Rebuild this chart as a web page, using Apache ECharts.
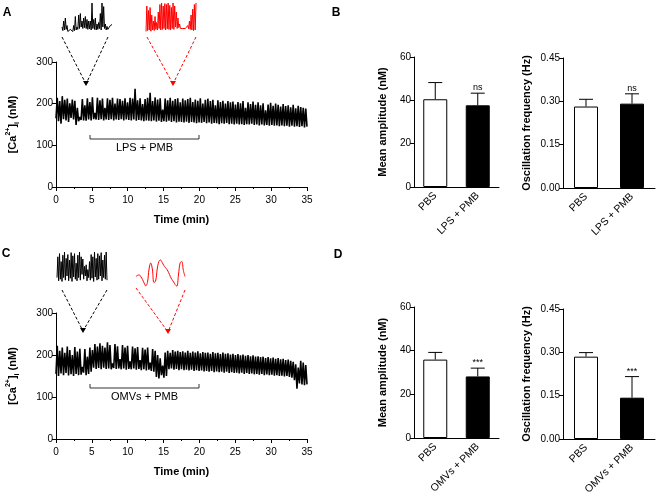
<!DOCTYPE html>
<html><head><meta charset="utf-8">
<script src="https://cdn.jsdelivr.net/npm/echarts@6/dist/echarts.min.js"></script>
<style>html,body{margin:0;padding:0;background:#fff}#c{width:660px;height:500px}</style>
</head><body><div id="c"></div>
<script>
// ---------- DATA ----------
const traceDuration = 35; // min
const traceA = [
165,214,158,206,152,218,163,209,160,212,156,201,166,210,162,207,149,190,158,168,
161,211,160,196,159,213,162,204,160,215,163,178,162,214,161,208,163,212,160,190,
162,213,161,209,163,214,160,200,162,212,161,211,163,207,160,213,162,203,161,214,
160,212,162,236,159,208,161,213,160,199,158,211,160,214,159,226,158,206,160,215,
157,210,159,213,156,186,158,212,157,208,159,214,156,207,158,211,155,213,157,203,
156,212,155,208,157,211,154,214,156,204,155,210,153,207,155,213,154,200,156,209,
153,212,155,206,152,209,154,196,153,208,151,204,153,207,152,200,154,206,151,203,
152,205,150,198,152,204,150,201,151,206,149,190,151,203,150,199,152,205,149,197,
150,203,148,196,150,201,148,184,149,198,147,202,149,195,147,200,148,197,146,193,
148,199,146,194,147,196,145,191,147,197,145,189,146,195,144,192,146,190,143,188,145];
const traceC = [
155,222,150,210,156,218,152,205,157,220,151,212,154,200,150,219,155,208,152,215,
153,172,158,214,152,196,155,218,160,212,170,226,167,220,169,228,166,222,170,218,
167,230,168,224,166,180,169,226,167,221,168,190,166,224,168,218,165,222,167,185,
166,220,168,216,165,219,167,188,164,217,166,213,163,218,165,182,162,214,160,210,
148,200,144,192,152,175,146,206,150,210,166,205,168,212,165,208,167,210,164,207,
166,209,164,206,165,210,163,205,165,208,162,206,164,209,162,204,163,207,161,205,
162,206,160,203,162,207,159,204,161,205,159,202,160,206,158,203,160,204,157,201,
159,203,157,200,158,202,156,199,158,201,155,198,157,200,155,197,156,199,154,196,
155,197,153,195,155,196,152,193,154,195,152,192,153,194,151,191,152,193,150,190,
151,191,149,188,150,189,148,186,146,184,140,178,120,170,132,186,130,182,128,176,130];
// inset snippets (relative height 0-100)
const insetA1 = [20,8,40,10,50,12,25,5,10,4,12,6,8,5,25,8,55,10,20,12,60,15,65,20,40,15,50,18,55,15,45,12,40,14,40,10,100,15,45,12,50,10,30,12,35,15,65,10,100,20,88,15,30,10,22,12,18,14,25,20,28];
const insetA2 = [5,90,8,75,10,85,6,60,10,40,8,55,12,35,10,70,15,95,10,100,12,90,15,98,10,95,14,100,12,92,10,85,15,100,12,90,20,70,15,50,18,30,15,20,12,15,14,12,15,14,12,25,14,40,12,60,10,80,8,95,10,100];
const insetC1 = [20,85,10,95,15,70,8,90,20,100,12,80,25,92,10,75,18,98,8,88,22,95,15,65,10,90,20,100,12,85,30,78,15,55,25,60,10,45,20,70,12,92,18,85,8,100,22,80,12,95,15,88,25,98,10,75,20,90,15,100,12];
const insetC2 = [35,39,40,34,25,13,4,15,60,80,60,15,20,60,85,90,82,72,65,58,48,35,25,17,8,3,40,80,85,55,35];

const catsB = ['PBS', 'LPS + PMB'];
const catsD = ['PBS', 'OMVs + PMB'];
const ampB = [40.5, 37.7],   ampBErr = [48.2, 43.3];
const freqB = [0.282, 0.292], freqBErr = [0.307, 0.326];
const ampD = [35.9, 28.2],   ampDErr = [39.2, 32.0];
const freqD = [0.285, 0.143], freqDErr = [0.299, 0.216];
const sigB = ['', 'ns'];
const sigD = ['', '***'];
const bracketA = 'LPS + PMB';
const bracketC = 'OMVs + PMB';

// ---------- CHART ----------
const FF = 'Liberation Sans, Arial, sans-serif';
const chart = echarts.init(document.getElementById('c'), null, {renderer:'canvas'});
const axLine = {show:true, lineStyle:{color:'#000', width:1}};
const axTick = {show:true, length:4, lineStyle:{color:'#000'}};
const lbl = {color:'#000', fontSize:10, fontFamily:FF};

const grids = [
  {left:56, top:62, width:251, height:125},   // 0 A trace
  {left:56, top:313, width:251, height:126},  // 1 C trace
  {left:414, top:57, width:85, height:130},   // 2 B amp
  {left:563, top:58, width:92, height:130},   // 3 B freq
  {left:414, top:307, width:85, height:131},  // 4 D amp
  {left:563, top:309, width:92, height:130},  // 5 D freq
  {left:62, top:3, width:50, height:30},      // 6 inset A black
  {left:146, top:3, width:50, height:30},     // 7 inset A red
  {left:57, top:252, width:50, height:32},    // 8 inset C black
  {left:136, top:257, width:49, height:30}    // 9 inset C red
];

const caName = {
  name:'{b|[Ca}{s|2+}{b|]}{i|i}{b| (nM)}', nameLocation:'middle', nameGap:35,
  nameTextStyle:{rich:{
    b:{fontSize:11, fontWeight:'bold', fontFamily:FF, color:'#000', lineHeight:16},
    s:{fontSize:7, fontWeight:'bold', fontFamily:FF, color:'#000', verticalAlign:'top', lineHeight:16},
    i:{fontSize:7, fontWeight:'bold', fontFamily:FF, color:'#000', verticalAlign:'bottom', lineHeight:16}
  }}
};
function traceX(gi){
  return {type:'value', gridIndex:gi, min:0, max:35, interval:5, axisLine:axLine, axisTick:axTick,
    minorTick:{show:true, splitNumber:2, length:2, lineStyle:{color:'#000'}},
    splitLine:{show:false}, axisLabel:lbl,
    name:'Time (min)', nameLocation:'middle', nameGap:27,
    nameTextStyle:{fontSize:11, fontWeight:'bold', fontFamily:FF, color:'#000'}};
}
function traceY(gi){
  return Object.assign({type:'value', gridIndex:gi, min:0, max:300, interval:100, axisLine:axLine, axisTick:axTick,
    splitLine:{show:false}, axisLabel:Object.assign({}, lbl, {margin:3})}, caName);
}
function barX(gi, cats){
  return {type:'category', gridIndex:gi, data:cats, axisLine:axLine, axisTick:{show:false},
    axisLabel:Object.assign({}, lbl, {rotate:45, margin:7, interval:0, fontSize:10.5})};
}
function barY(gi, max, interval, name, gap, dec){
  return {type:'value', gridIndex:gi, min:0, max:max, interval:interval, axisLine:axLine, axisTick:axTick,
    splitLine:{show:false}, axisLabel:Object.assign({}, lbl, {margin:3, formatter:v=>v.toFixed(dec)}),
    name:name, nameLocation:'middle', nameGap:gap,
    nameTextStyle:{fontSize:11, fontWeight:'bold', fontFamily:FF, color:'#000'}};
}
function insetAx(gi, n){
  return [{type:'value', gridIndex:gi, min:0, max:n-1, show:false},
          {type:'value', gridIndex:gi, min:0, max:100, show:false}];
}
const xAxes = [traceX(0), traceX(1), barX(2,catsB), barX(3,catsB), barX(4,catsD), barX(5,catsD)];
const yAxes = [traceY(0), traceY(1),
  barY(2, 60, 20, 'Mean amplitude (nM)', 26, 0),
  barY(3, 0.45, 0.15, 'Oscillation frequency (Hz)', 31, 2),
  barY(4, 60, 20, 'Mean amplitude (nM)', 26, 0),
  barY(5, 0.45, 0.15, 'Oscillation frequency (Hz)', 31, 2)];
[[6,insetA1],[7,insetA2],[8,insetC1],[9,insetC2]].forEach(([g,arr])=>{
  const [x,y] = insetAx(g, arr.length); xAxes.push(x); yAxes.push(y);
});

function traceSeries(idx, arr){
  const step = traceDuration/(arr.length-1);
  return {type:'line', xAxisIndex:idx, yAxisIndex:idx, showSymbol:false, sampling:null, animation:false,
    lineStyle:{color:'#000', width:1.6}, data:arr.map((v,i)=>[i*step, v])};
}
function barSeries(idx, vals){
  return {type:'bar', xAxisIndex:idx, yAxisIndex:idx, barWidth:24, animation:false,
    data:vals.map((v,i)=>({value:v, itemStyle:{color: i===0 ? '#fff' : '#000', borderColor:'#000', borderWidth:1}}))};
}
function errSeries(idx, vals, errs, sig){
  return {type:'custom', xAxisIndex:idx, yAxisIndex:idx, z:5, animation:false,
    data:vals.map((v,i)=>[i, v, errs[i]]),
    renderItem(params, api){
      const b = api.coord([api.value(0), api.value(1)]);
      const t = api.coord([api.value(0), api.value(2)]);
      const cap = 7;
      return {type:'group', children:[
        {type:'line', shape:{x1:b[0], y1:b[1], x2:t[0], y2:t[1]}, style:{stroke:'#000', lineWidth:1}},
        {type:'line', shape:{x1:t[0]-cap, y1:t[1], x2:t[0]+cap, y2:t[1]}, style:{stroke:'#000', lineWidth:1}},
        {type:'text', style:{text:sig[params.dataIndex], x:t[0], y:t[1]-1, align:'center', verticalAlign:'bottom',
          font:'9px '+FF, fill:'#000'}}
      ]};
    }};
}
function insetSeries(idx, arr, color, smooth){
  return {type:'line', xAxisIndex:idx, yAxisIndex:idx, showSymbol:false, smooth:smooth, animation:false,
    lineStyle:{color:color, width:1}, data:arr.map((v,i)=>[i,v])};
}

const series = [
  traceSeries(0, traceA), traceSeries(1, traceC),
  barSeries(2, ampB), barSeries(3, freqB), barSeries(4, ampD), barSeries(5, freqD),
  errSeries(2, ampB, ampBErr, sigB), errSeries(3, freqB, freqBErr, sigB),
  errSeries(4, ampD, ampDErr, sigD), errSeries(5, freqD, freqDErr, sigD),
  insetSeries(6, insetA1, '#000', false), insetSeries(7, insetA2, '#ff0000', false),
  insetSeries(8, insetC1, '#000', false), insetSeries(9, insetC2, '#ff0000', 0.4)
];

// annotations
function vee(p1, p2, apex, color){
  return [
    {type:'polyline', shape:{points:[p1, apex]}, style:{stroke:color, lineWidth:1, lineDash:[3,2], fill:null}},
    {type:'polyline', shape:{points:[p2, apex]}, style:{stroke:color, lineWidth:1, lineDash:[3,2], fill:null}},
    {type:'polygon', shape:{points:[[apex[0]-3, apex[1]-3],[apex[0]+3, apex[1]-3],[apex[0], apex[1]+2]]}, style:{fill:color}}
  ];
}
function bracket(x1, x2, y, text){
  return [
    {type:'polyline', shape:{points:[[x1, y-4],[x1, y],[x2, y],[x2, y-4]]}, style:{stroke:'#333', lineWidth:1, fill:null}},
    {type:'text', style:{text:text, x:(x1+x2)/2, y:y+3, align:'center', verticalAlign:'top', font:'11px '+FF, fill:'#000'}}
  ];
}
function letter(t, x, y){
  return {type:'text', style:{text:t, x:x, y:y, align:'center', verticalAlign:'middle', font:'bold 12px '+FF, fill:'#000'}};
}
const graphic = [].concat(
  vee([62,37],[108,37],[86,84],'#000'),
  vee([147,37],[196,37],[173,84],'#ff0000'),
  vee([62,290],[107,290],[83,331],'#000'),
  vee([136,288],[185,290],[168,332],'#ff0000'),
  bracket(90, 199, 139, bracketA),
  bracket(90, 199, 388, bracketC),
  [letter('A',7,13), letter('B',336,13), letter('C',6,254), letter('D',338,255)]
);

chart.setOption({
  animation:false,
  textStyle:{fontFamily:FF},
  grid:grids, xAxis:xAxes, yAxis:yAxes, series:series, graphic:graphic
});
</script></body></html>
